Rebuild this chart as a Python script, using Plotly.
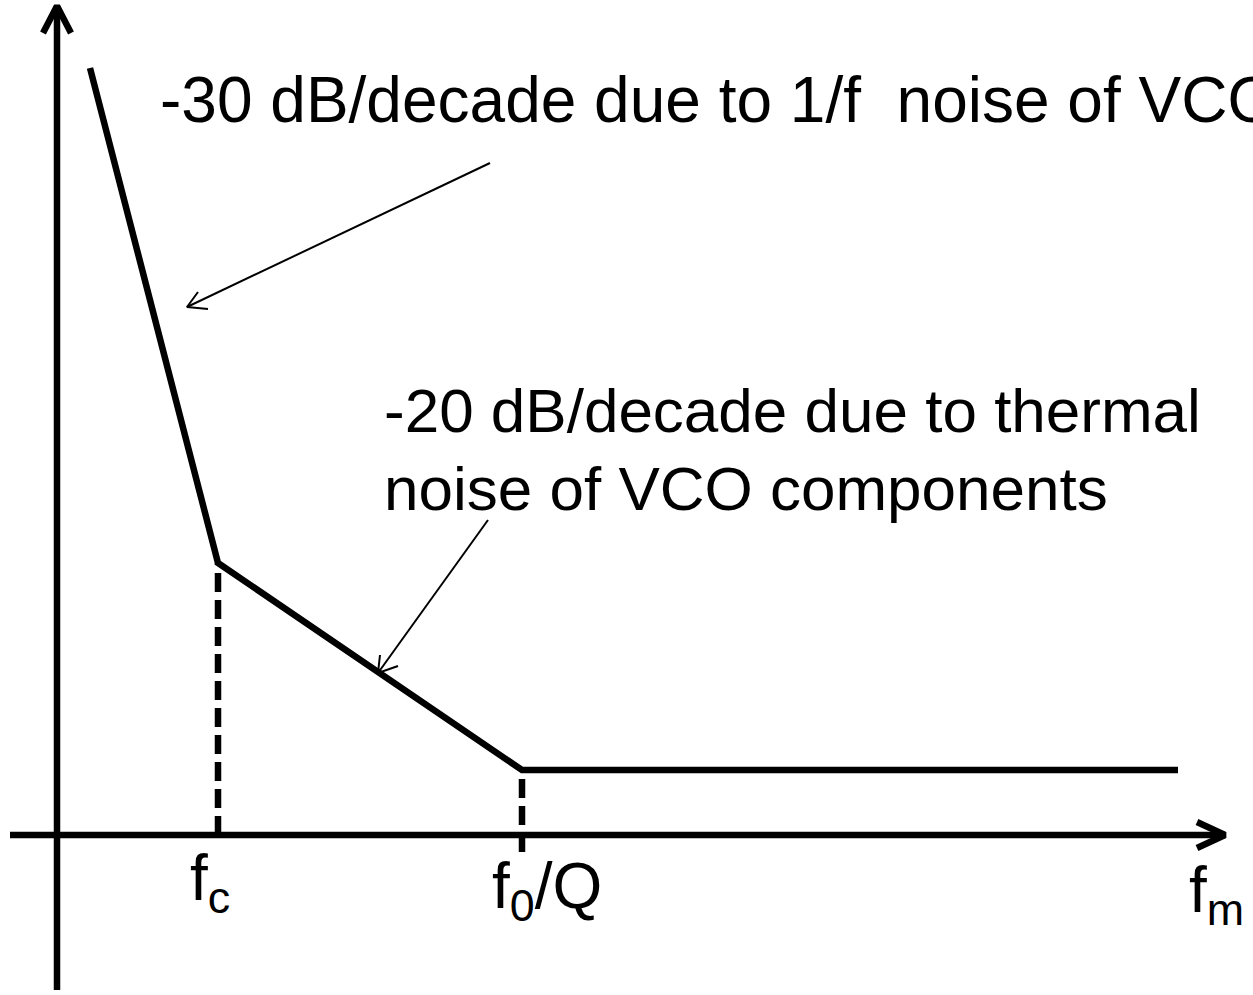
import plotly.graph_objects as go

# Diagram coordinates: origin at the axes' intersection, y upward
# Asymptotic phase-noise curve (break points)
curve_x = [33, 161, 465, 1121]
curve_y = [767, 272, 65, 65]

# axes
yaxis_line_x = [0, 0]
yaxis_line_y = [-155, 829]
yarrow_x = [-14, 0, 14]
yarrow_y = [802, 829, 802]
xaxis_line_x = [-47, 1168]
xaxis_line_y = [0, 0]
xarrow_x = [1140, 1168, 1140]
xarrow_y = [13, 0, -13]

# dashed markers for corner frequencies
fc_x = [161, 161]
fc_y = [0, 272]
f0q_x = [465, 465]
f0q_y = [-17, 65]

# annotation pointer arrows
ptr1_x = [433, 130]
ptr1_y = [672, 528]
ptr1_head_x = [141, 130, 151]
ptr1_head_y = [543, 528, 526]
ptr2_x = [431, 321]
ptr2_y = [315, 162]
ptr2_head_x = [323, 321, 341]
ptr2_head_y = [180, 162, 169]

texts = [
    ("-30 dB/decade due to 1/f  noise of VCO", 101, 735, 64),
    ("-20 dB/decade due to thermal", 325, 425, 62),
    ("noise of VCO components", 325, 347, 62),
    ("f<sub>c</sub>", 131, -47, 64),
    ("f<sub>0</sub>/Q", 433, -55, 64),
    ("f<sub>m</sub>", 1130, -59, 64),
]

FONT = "Liberation Sans, Arial, sans-serif"
fig = go.Figure()

def line(x, y, w, dash="solid"):
    fig.add_trace(go.Scatter(x=x, y=y, mode="lines",
                             line=dict(color="black", width=w, dash=dash),
                             hoverinfo="skip", showlegend=False))

line(yaxis_line_x, yaxis_line_y, 6.5)
line(yarrow_x, yarrow_y, 6.5)
line(xaxis_line_x, xaxis_line_y, 6.5)
line(xarrow_x, xarrow_y, 6.5)
line(fc_x, fc_y, 6.5, dash="19px,8px")
line(f0q_x, f0q_y, 6.5, dash="19px,8px")
line(curve_x, curve_y, 6.5)
line(ptr1_x, ptr1_y, 2)
line(ptr1_head_x, ptr1_head_y, 2)
line(ptr2_x, ptr2_y, 2)
line(ptr2_head_x, ptr2_head_y, 2)

for t, x, y, s in texts:
    fig.add_annotation(x=x, y=y, text=t, showarrow=False, xanchor="left",
                       yanchor="middle", font=dict(family=FONT, size=s, color="black"))

fig.update_layout(
    width=1253, height=995,
    margin=dict(l=0, r=0, t=0, b=0),
    paper_bgcolor="white", plot_bgcolor="white",
    xaxis=dict(range=[-57, 1196], visible=False, fixedrange=True),
    yaxis=dict(range=[-160, 835], visible=False, fixedrange=True),
    showlegend=False,
)
fig.write_html("out.html", config={"displayModeBar": False},
               post_script="document.body.style.margin='0';document.body.style.overflow='hidden';")
